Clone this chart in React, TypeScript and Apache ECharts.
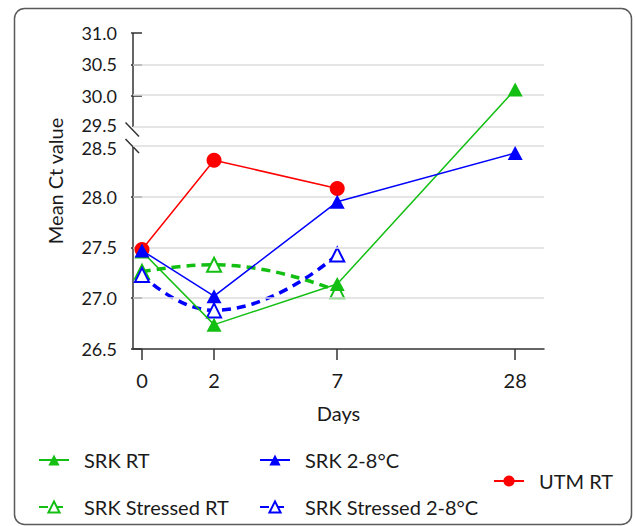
import React, { useEffect, useRef } from "react";
import * as echarts from "echarts";

// ---- data ----
const days = ["0", "2", "7", "28"];
// horizontal placement of each day on the (non-linear) day axis
const dayAxisPos = [0, 1, 2.71, 5.18];

const srkRT = [27.46, 26.74, 27.14, 30.1];
const srk28 = [27.47, 27.02, 27.95, 28.43];
const utmRT = [27.48, 28.36, 28.08];
const srkStressedRT = [27.26, 27.33, 27.07];
const srkStressed28 = [27.23, 26.88, 27.43];

const yLabelValues = [26.5, 27.0, 27.5, 28.0, 28.5, 29.5, 30.0, 30.5, 31.0];
const yTickValues = [26.5, 27.0, 27.5, 28.0, 30.0, 30.5, 31.0];
const yGridValues = [27.0, 27.5, 28.0, 28.5, 29.5, 30.0, 30.5];

// ---- broken y axis: 26.5–28.5 below, 29.5–31 above (compressed) ----
const BREAK_LOW = 28.5;
const BREAK_HIGH = 29.5;
const BREAK_GAP = 0.187;
const UPPER_RATIO = 0.617;
const toAxis = (v: number) =>
  v <= BREAK_LOW ? v : BREAK_LOW + BREAK_GAP + (v - BREAK_HIGH) * UPPER_RATIO;
const fromAxis = (d: number) =>
  d <= BREAK_LOW + 1e-6 ? d : BREAK_HIGH + (d - BREAK_LOW - BREAK_GAP) / UPPER_RATIO;

const GREEN = "#12bf12";
const BLUE = "#0000ff";
const RED = "#ff0000";
const FONT = "Lato, 'Open Sans', sans-serif";
const TEXT = "#1a1a1a";

const toPoints = (vals: number[]) => vals.map((v, i) => [dayAxisPos[i], toAxis(v)]);

export default function App() {
  const ref = useRef<HTMLDivElement>(null);

  useEffect(() => {
    if (!ref.current) return;
    const chart = echarts.init(ref.current, undefined, { renderer: "svg" });

    const legendText = { fontFamily: FONT, fontSize: 20, color: TEXT, padding: [0, 0, 0, 10] };
    const mkLegend = (name: string, left: number, top: number) => ({
      data: [name],
      left,
      top,
      padding: 0,
      itemWidth: 30,
      itemHeight: 14,
      textStyle: legendText,
      selectedMode: false,
    });

    const axisColor = "#333";
    const tickFont = { fontFamily: FONT, fontSize: 18, color: TEXT };

    const option: any = {
      animation: false,
      backgroundColor: "#fff",
      grid: { left: 133, right: 92, top: 33, bottom: 177, containLabel: false },
      xAxis: {
        type: "value",
        min: -0.125,
        max: 5.58,
        axisLine: { show: true, lineStyle: { color: axisColor, width: 1.5 } },
        axisTick: {
          show: true,
          customValues: dayAxisPos,
          length: 11,
          lineStyle: { color: axisColor, width: 1.5 },
        },
        axisLabel: {
          customValues: dayAxisPos,
          formatter: (v: number) => {
            const i = dayAxisPos.findIndex((p) => Math.abs(p - v) < 1e-6);
            return i >= 0 ? days[i] : "";
          },
          margin: 21,
          fontFamily: FONT,
          fontSize: 20,
          color: TEXT,
        },
        splitLine: { show: false },
        name: "Days",
        nameLocation: "middle",
        nameGap: 54,
        nameTextStyle: { fontFamily: FONT, fontSize: 20, color: TEXT },
      },
      yAxis: {
        type: "value",
        min: 26.5,
        max: toAxis(31),
        axisLine: { show: false },
        axisTick: {
          show: true,
          customValues: yTickValues.map(toAxis),
          length: 11,
          lineStyle: { color: axisColor, width: 1.5 },
        },
        axisLabel: {
          customValues: yLabelValues.map(toAxis),
          formatter: (v: number) => {
            const real = fromAxis(v);
            const s = real.toFixed(1);
            if (Math.abs(real - BREAK_HIGH) < 1e-3) return `{hi|${s}}`;
            if (Math.abs(real - BREAK_LOW) < 1e-3) return `{lo|${s}}`;
            return s;
          },
          margin: 16,
          ...tickFont,
          rich: {
            hi: { ...tickFont, padding: [0, 0, 4, 0] },
            lo: { ...tickFont, padding: [4, 0, 0, 0] },
          },
        },
        splitLine: { show: false },
      },
      legend: [
        mkLegend("SRK RT", 38, 450),
        mkLegend("SRK 2-8°C", 259, 450),
        mkLegend("UTM RT", 493, 471),
        mkLegend("SRK Stressed RT", 38, 497),
        mkLegend("SRK Stressed 2-8°C", 259, 497),
      ],
      graphic: [
        {
          type: "rect",
          shape: { x: 14.5, y: 8.5, width: 617, height: 516, r: 10 },
          style: { fill: "none", stroke: "#5a5a5a", lineWidth: 1.5 },
          silent: true,
          z: 100,
        },
        {
          type: "line",
          shape: { x1: 133, y1: 33, x2: 133, y2: 127 },
          style: { stroke: axisColor, lineWidth: 1.5 },
          silent: true,
        },
        {
          type: "line",
          shape: { x1: 133, y1: 146, x2: 133, y2: 349 },
          style: { stroke: axisColor, lineWidth: 1.5 },
          silent: true,
        },
        {
          type: "line",
          shape: { x1: 125.5, y1: 122.5, x2: 139, y2: 136.5 },
          style: { stroke: axisColor, lineWidth: 1.5 },
          silent: true,
        },
        {
          type: "line",
          shape: { x1: 125.5, y1: 139, x2: 139, y2: 153 },
          style: { stroke: axisColor, lineWidth: 1.5 },
          silent: true,
        },
        {
          type: "text",
          x: 55,
          y: 181,
          rotation: Math.PI / 2,
          style: {
            text: "Mean Ct value",
            align: "center",
            verticalAlign: "middle",
            fontFamily: FONT,
            fontSize: 20,
            fill: TEXT,
          },
          silent: true,
        },
      ],
      series: [
        {
          name: "_grid",
          type: "line",
          data: [],
          z: 0,
          silent: true,
          markLine: {
            silent: true,
            symbol: ["none", "none"],
            label: { show: false },
            lineStyle: { color: "#dcdcdc", width: 1.5, type: "solid" },
            data: yGridValues.map((v) => ({ yAxis: toAxis(v) })),
          },
        },
        {
          name: "SRK Stressed RT",
          type: "line",
          data: toPoints(srkStressedRT),
          smooth: 0.5,
          color: GREEN,
          symbol: "emptyTriangle",
          symbolSize: 14,
          lineStyle: { color: GREEN, width: 3.5, type: [9, 6] },
          itemStyle: { color: GREEN, borderColor: GREEN, borderWidth: 1.5 },
          z: 3,
        },
        {
          name: "SRK Stressed 2-8°C",
          type: "line",
          data: toPoints(srkStressed28),
          smooth: 0.5,
          color: BLUE,
          symbol: "emptyTriangle",
          symbolSize: 14,
          lineStyle: { color: BLUE, width: 3.5, type: [9, 6] },
          itemStyle: { color: BLUE, borderColor: BLUE, borderWidth: 1.5 },
          z: 4,
        },
        {
          name: "UTM RT",
          type: "line",
          data: toPoints(utmRT),
          color: RED,
          symbol: "circle",
          symbolSize: 15,
          lineStyle: { color: RED, width: 1.5 },
          itemStyle: { color: RED },
          z: 5,
        },
        {
          name: "SRK RT",
          type: "line",
          data: toPoints(srkRT),
          color: GREEN,
          symbol: "triangle",
          symbolSize: [15, 14],
          lineStyle: { color: GREEN, width: 1.5 },
          itemStyle: { color: GREEN },
          z: 6,
        },
        {
          name: "SRK 2-8°C",
          type: "line",
          data: toPoints(srk28),
          color: BLUE,
          symbol: "triangle",
          symbolSize: [15, 14],
          lineStyle: { color: BLUE, width: 1.5 },
          itemStyle: { color: BLUE },
          z: 7,
        },
      ],
    };

    chart.setOption(option);
    return () => chart.dispose();
  }, []);

  return (
    <div
      ref={ref}
      style={{ position: "absolute", left: 0, top: 0, width: 636, height: 526, background: "#fff" }}
    />
  );
}
